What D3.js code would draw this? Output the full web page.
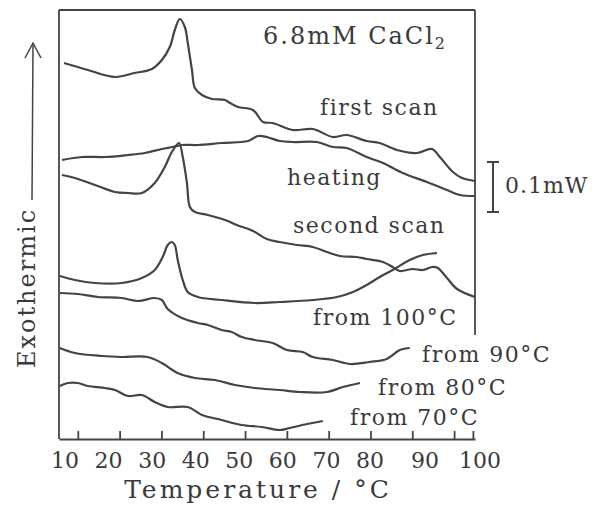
<!DOCTYPE html>
<html>
<head>
<meta charset="utf-8">
<script src="https://cdn.jsdelivr.net/npm/d3@7"></script>
<style>
body { margin: 0; background: #fff; }
text { font-family: "DejaVu Serif", serif; fill: #3a3a3a; }
</style>
</head>
<body>
<svg id="canvas" width="599" height="520"></svg>
<script>
// temperature (°C), heat flow (mW, offset per curve)
let tempTicks = [10, 20, 30, 40, 50, 60, 70, 80, 90, 100]

let firstScan = [[6.7,0.752],[12.4,0.738],[18.9,0.724],[23.6,0.732],[27.7,0.740],[30.1,0.758],[32.0,0.784],[33.2,0.818],[34.4,0.840],[35.6,0.824],[36.3,0.792],[37.3,0.738],[38.0,0.702],[39.7,0.688],[42.1,0.680],[45.2,0.678],[46.4,0.672],[48.3,0.664],[51.9,0.658],[54.3,0.634],[56.6,0.632],[61.4,0.618],[66.2,0.620],[71.0,0.604],[74.3,0.608],[79.1,0.596],[82.2,0.592],[86.3,0.578],[91.1,0.572],[94.7,0.580],[96.6,0.564],[99.7,0.534],[101.9,0.522],[105,0.516]]

let heating = [[6.2,0.558],[11.0,0.564],[16.5,0.564],[22.0,0.568],[26.0,0.572],[30.1,0.580],[32.7,0.584],[34.9,0.588],[38.7,0.588],[44.4,0.592],[50.7,0.596],[53.1,0.606],[55.2,0.604],[58.3,0.596],[61.4,0.594],[67.2,0.594],[71.0,0.584],[74.3,0.582],[79.1,0.564],[83.0,0.552],[87.7,0.532],[93.5,0.514],[98.3,0.498],[101.4,0.488],[105,0.486]]

let secondScan = [[6.2,0.528],[9.3,0.522],[14.1,0.508],[18.9,0.494],[22.0,0.492],[25.3,0.492],[28.4,0.512],[30.8,0.544],[32.5,0.574],[34.2,0.592],[35.1,0.564],[36.1,0.512],[36.8,0.464],[38.0,0.454],[41.1,0.448],[45.9,0.436],[48.0,0.428],[51.9,0.416],[55.2,0.400],[58.3,0.394],[62.4,0.388],[66.2,0.384],[69.6,0.374],[72.7,0.366],[76.7,0.364],[79.1,0.360],[83.0,0.354],[85.3,0.344],[87.0,0.336],[90.1,0.340],[92.5,0.338],[94.7,0.344],[96.1,0.342],[98.3,0.322],[100.7,0.300],[105,0.284]]

let from100 = [[5.7,0.326],[9.3,0.318],[14.1,0.312],[20.5,0.312],[25.3,0.322],[28.4,0.338],[30.3,0.364],[31.5,0.388],[32.5,0.394],[33.2,0.388],[33.9,0.358],[35.1,0.318],[36.3,0.294],[38.7,0.284],[44.4,0.278],[52.3,0.272],[58.3,0.274],[66.2,0.278],[72.0,0.284],[75.8,0.294],[79.1,0.308],[82.2,0.324],[85.3,0.338],[89.4,0.358],[92.5,0.368],[95.9,0.372]]

let from90 = [[5.7,0.292],[10.0,0.290],[14.8,0.284],[20.5,0.282],[24.4,0.276],[28.4,0.282],[30.1,0.278],[31.5,0.260],[34.9,0.242],[38.7,0.232],[41.1,0.228],[44.4,0.218],[46.8,0.214],[49.2,0.204],[52.3,0.198],[56.6,0.192],[60.0,0.178],[63.8,0.174],[66.2,0.164],[71.0,0.158],[75.1,0.150],[79.8,0.154],[83.9,0.160],[87.0,0.178],[89.4,0.182]]

let from80 = [[5.7,0.182],[9.3,0.172],[15.7,0.166],[20.5,0.164],[26.7,0.164],[30.1,0.152],[33.9,0.132],[38.0,0.122],[42.8,0.118],[47.6,0.108],[52.3,0.102],[58.3,0.098],[63.1,0.094],[69.6,0.094],[73.4,0.104],[77.5,0.112]]

let from70 = [[5.7,0.106],[7.6,0.112],[10.0,0.112],[12.4,0.106],[16.5,0.102],[18.9,0.098],[22.0,0.086],[25.3,0.088],[28.4,0.074],[31.5,0.064],[36.3,0.064],[39.7,0.048],[44.4,0.038],[49.2,0.028],[54.0,0.024],[58.3,0.018],[60.7,0.022],[64.8,0.030],[68.6,0.036]]

let curveData = [firstScan, heating, secondScan, from100, from90, from80, from70]
let curveNames = ['first scan', 'heating', 'second scan', 'from 100°C', 'from 90°C', 'from 80°C', 'from 70°C']

let canvas = d3.select('#canvas')

let xScale = d3.scaleLinear().domain([5.5, 105]).range([59, 475])
let yScale = d3.scaleLinear().domain([0, 0.858]).range([439, 10])
// the printed tick numbers sit a bit off their ticks
let labelScale = d3.scaleLinear().domain([10, 80, 100]).range([65, 370, 480])

let ink = '#444'

// frame
canvas.append('line').attr('x1', 59).attr('y1', 10).attr('x2', 475).attr('y2', 10)
    .attr('stroke', ink).attr('stroke-width', 1.8)
canvas.append('line').attr('x1', 59).attr('y1', 10).attr('x2', 59).attr('y2', 439)
    .attr('stroke', ink).attr('stroke-width', 1.8)
canvas.append('line').attr('x1', 475).attr('y1', 10).attr('x2', 475).attr('y2', 335)
    .attr('stroke', ink).attr('stroke-width', 1.8)

// bottom axis, ticks point up
let xAxis = d3.axisBottom(xScale)
    .tickValues(tempTicks.concat([104.5]))
    .tickSizeInner(-8)
    .tickSizeOuter(0)
    .tickFormat('')
let axisG = canvas.append('g').attr('transform', 'translate(0,439)').call(xAxis)
axisG.selectAll('path, line').attr('stroke', ink).attr('stroke-width', 1.8)

canvas.selectAll('.ticklabel')
    .data(tempTicks)
    .enter()
    .append('text')
    .attr('class', 'ticklabel')
    .attr('x', (d) => labelScale(d))
    .attr('y', 468)
    .attr('text-anchor', 'middle')
    .attr('font-size', 22)
    .text((d) => d)

canvas.append('text')
    .attr('x', 258).attr('y', 498)
    .attr('text-anchor', 'middle')
    .attr('font-size', 25)
    .attr('letter-spacing', 3)
    .text('Temperature / °C')

// y label and arrow
canvas.append('text')
    .attr('transform', 'translate(35,288) rotate(-90)')
    .attr('text-anchor', 'middle')
    .attr('font-size', 24)
    .attr('letter-spacing', 2)
    .text('Exothermic')
canvas.append('line').attr('x1', 32).attr('y1', 200).attr('x2', 33).attr('y2', 44)
    .attr('stroke', ink).attr('stroke-width', 1.5)
canvas.append('path').attr('d', 'M25,58 L33,43 L41,58')
    .attr('fill', 'none').attr('stroke', ink).attr('stroke-width', 1.5)

// curves
let line = d3.line()
    .x((d) => xScale(d[0]))
    .y((d) => yScale(d[1]))
    .curve(d3.curveCatmullRom.alpha(0.5))

canvas.selectAll('.trace')
    .data(curveData)
    .enter()
    .append('path')
    .attr('class', 'trace')
    .attr('d', line)
    .attr('fill', 'none')
    .attr('stroke', ink)
    .attr('stroke-width', 2.2)

let labelAt = [[320, 115], [287, 185], [293, 233], [313, 325], [422, 362], [378, 395], [350, 425]]
canvas.selectAll('.curvelabel')
    .data(curveNames)
    .enter()
    .append('text')
    .attr('class', 'curvelabel')
    .attr('x', (d, i) => labelAt[i][0])
    .attr('y', (d, i) => labelAt[i][1])
    .attr('font-size', 22)
    .attr('letter-spacing', 1.5)
    .text((d) => d)

// title
let title = canvas.append('text').attr('x', 263).attr('y', 44)
    .attr('font-size', 24).attr('letter-spacing', 2)
title.append('tspan').text('6.8mM CaCl')
title.append('tspan').attr('font-size', 16).attr('dy', 5).text('2')

// 0.1 mW scale bar
let barTop = yScale(0.554)
let barBot = yScale(0.454)
canvas.append('line').attr('x1', 493).attr('x2', 493).attr('y1', barTop).attr('y2', barBot)
    .attr('stroke', ink).attr('stroke-width', 2)
canvas.append('line').attr('x1', 487).attr('x2', 499).attr('y1', barTop).attr('y2', barTop)
    .attr('stroke', ink).attr('stroke-width', 2)
canvas.append('line').attr('x1', 487).attr('x2', 499).attr('y1', barBot).attr('y2', barBot)
    .attr('stroke', ink).attr('stroke-width', 2)
canvas.append('text').attr('x', 505).attr('y', 193)
    .attr('font-size', 22).attr('letter-spacing', 1)
    .text('0.1mW')
</script>
</body>
</html>
